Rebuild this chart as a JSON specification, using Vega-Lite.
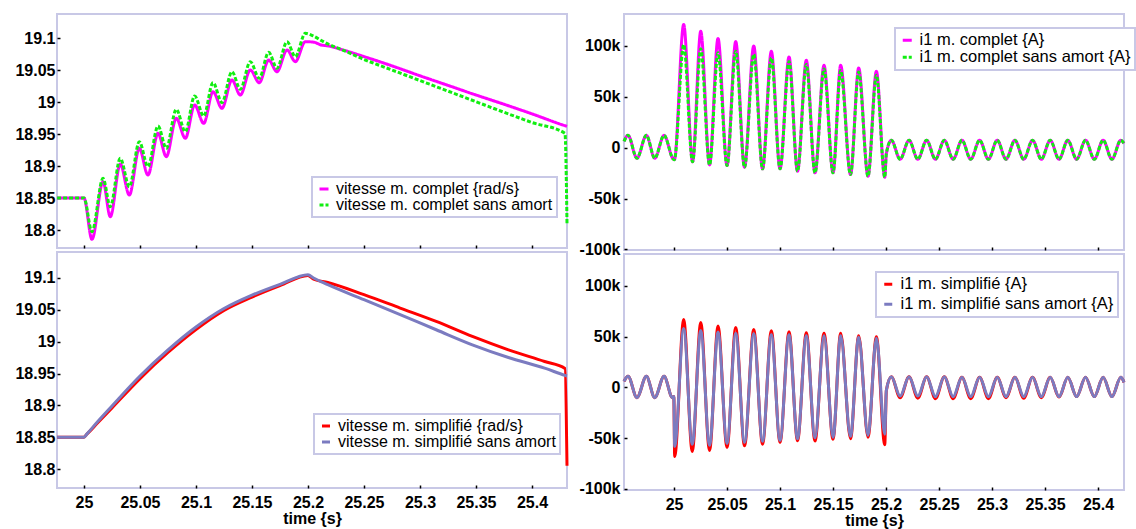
{
  "$schema": "https://vega.github.io/schema/vega-lite/v6.json",
  "padding": {"left": 13, "top": 13, "right": 0, "bottom": 0},
  "background": "white",
  "datasets": {
    "tl": [
      {"t":24.976,"a":18.85,"b":18.85},
      {"t":25.0,"a":18.85,"b":18.85},
      {"t":25.0071,"a":18.7855,"b":18.7974},
      {"t":25.017,"a":18.8755,"b":18.8807},
      {"t":25.0235,"a":18.8208,"b":18.8365},
      {"t":25.0324,"a":18.9031,"b":18.912},
      {"t":25.0405,"a":18.8547,"b":18.8677},
      {"t":25.0494,"a":18.9277,"b":18.938},
      {"t":25.0571,"a":18.8859,"b":18.899},
      {"t":25.0661,"a":18.9511,"b":18.9625},
      {"t":25.0735,"a":18.9146,"b":18.9276},
      {"t":25.0824,"a":18.9745,"b":18.9885},
      {"t":25.0905,"a":18.9433,"b":18.9536},
      {"t":25.0988,"a":18.9953,"b":19.0094},
      {"t":25.1069,"a":18.9667,"b":18.9781},
      {"t":25.1152,"a":19.0161,"b":19.0302},
      {"t":25.1232,"a":18.9901,"b":18.999},
      {"t":25.1321,"a":19.0344,"b":19.0474},
      {"t":25.1396,"a":19.0109,"b":19.0198},
      {"t":25.1485,"a":19.05,"b":19.063},
      {"t":25.1565,"a":19.0302,"b":19.037},
      {"t":25.1649,"a":19.0656,"b":19.0776},
      {"t":25.1723,"a":19.0474,"b":19.0526},
      {"t":25.1813,"a":19.0813,"b":19.0943},
      {"t":25.1887,"a":19.063,"b":19.0708},
      {"t":25.1976,"a":19.0943,"b":19.1073},
      {"t":25.205,"a":19.0935,"b":19.103},
      {"t":25.212,"a":19.089,"b":19.096},
      {"t":25.2185,"a":19.0875,"b":19.09},
      {"t":25.23,"a":19.082,"b":19.082},
      {"t":25.25,"a":19.071,"b":19.0665},
      {"t":25.275,"a":19.0565,"b":19.05},
      {"t":25.3,"a":19.041,"b":19.0335},
      {"t":25.325,"a":19.026,"b":19.017},
      {"t":25.35,"a":19.011,"b":19.0005},
      {"t":25.375,"a":18.9965,"b":18.984},
      {"t":25.4,"a":18.9815,"b":18.968},
      {"t":25.4295,"a":18.963,"b":18.951},
      {"t":25.4313,"a":18.962,"b":18.81}
    ],
    "bl": [
      {"t":24.976,"a":18.85,"b":18.85},
      {"t":25.0,"a":18.85,"b":18.85},
      {"t":25.0025,"a":18.8545,"b":18.8548},
      {"t":25.0125,"a":18.873,"b":18.875},
      {"t":25.025,"a":18.896,"b":18.899},
      {"t":25.05,"a":18.942,"b":18.946},
      {"t":25.075,"a":18.983,"b":18.987},
      {"t":25.1,"a":19.019,"b":19.023},
      {"t":25.125,"a":19.049,"b":19.052},
      {"t":25.15,"a":19.07,"b":19.073},
      {"t":25.175,"a":19.088,"b":19.09},
      {"t":25.2,"a":19.104,"b":19.105},
      {"t":25.205,"a":19.098,"b":19.1},
      {"t":25.2177,"a":19.093,"b":19.0895},
      {"t":25.25,"a":19.0738,"b":19.0659},
      {"t":25.2823,"a":19.0528,"b":19.0423},
      {"t":25.3145,"a":19.0318,"b":19.0187},
      {"t":25.3468,"a":19.0082,"b":18.9951},
      {"t":25.379,"a":18.9872,"b":18.9752},
      {"t":25.4113,"a":18.9689,"b":18.9584},
      {"t":25.4295,"a":18.958,"b":18.947},
      {"t":25.4313,"a":18.805,"b":18.946}
    ],
    "tr": [
      {"t":24.9528,"a":6000,"b":6000},
      {"t":24.9566,"a":12000,"b":12000},
      {"t":24.965,"a":-10500,"b":-10500},
      {"t":24.9739,"a":12000,"b":12000},
      {"t":24.9818,"a":-10500,"b":-10500},
      {"t":24.9906,"a":12000,"b":12000},
      {"t":24.999,"a":-11000,"b":-11000},
      {"t":25.0003,"a":-12000,"b":-12000},
      {"t":25.0091,"a":120600,"b":101000},
      {"t":25.0175,"a":-14000,"b":-14000},
      {"t":25.0252,"a":114000,"b":97000},
      {"t":25.0335,"a":-17000,"b":-17000},
      {"t":25.0415,"a":107000,"b":93000},
      {"t":25.05,"a":-17600,"b":-17600},
      {"t":25.0582,"a":104000,"b":94500},
      {"t":25.0665,"a":-19300,"b":-19300},
      {"t":25.0752,"a":99700,"b":91500},
      {"t":25.0835,"a":-20900,"b":-20900},
      {"t":25.0918,"a":94400,"b":88000},
      {"t":25.1,"a":-20900,"b":-20900},
      {"t":25.1085,"a":88900,"b":84500},
      {"t":25.1165,"a":-23200,"b":-23200},
      {"t":25.1248,"a":85600,"b":81500},
      {"t":25.133,"a":-24800,"b":-24800},
      {"t":25.1415,"a":80700,"b":77000},
      {"t":25.15,"a":-24800,"b":-24800},
      {"t":25.1572,"a":80700,"b":75500},
      {"t":25.1665,"a":-26500,"b":-26500},
      {"t":25.1742,"a":78100,"b":74000},
      {"t":25.183,"a":-28100,"b":-28100},
      {"t":25.1909,"a":74800,"b":71000},
      {"t":25.1988,"a":-29100,"b":-29100},
      {"t":25.2003,"a":-6000,"b":-6000},
      {"t":25.205,"a":7200,"b":7200},
      {"t":25.2133,"a":-11500,"b":-11500},
      {"t":25.2217,"a":7200,"b":7200},
      {"t":25.23,"a":-11500,"b":-11500},
      {"t":25.2383,"a":7200,"b":7200},
      {"t":25.2466,"a":-11500,"b":-11500},
      {"t":25.255,"a":7200,"b":7200},
      {"t":25.2633,"a":-11500,"b":-11500},
      {"t":25.2716,"a":7200,"b":7200},
      {"t":25.2799,"a":-11500,"b":-11500},
      {"t":25.2883,"a":7200,"b":7200},
      {"t":25.2966,"a":-11500,"b":-11500},
      {"t":25.3049,"a":7200,"b":7200},
      {"t":25.3132,"a":-11500,"b":-11500},
      {"t":25.3216,"a":7200,"b":7200},
      {"t":25.3299,"a":-11500,"b":-11500},
      {"t":25.3382,"a":7200,"b":7200},
      {"t":25.3465,"a":-11500,"b":-11500},
      {"t":25.3549,"a":7200,"b":7200},
      {"t":25.3632,"a":-11500,"b":-11500},
      {"t":25.3715,"a":7200,"b":7200},
      {"t":25.3798,"a":-11500,"b":-11500},
      {"t":25.3882,"a":7200,"b":7200},
      {"t":25.3965,"a":-11500,"b":-11500},
      {"t":25.4048,"a":7200,"b":7200},
      {"t":25.4131,"a":-11500,"b":-11500},
      {"t":25.4215,"a":7200,"b":7200},
      {"t":25.4245,"a":4000,"b":4000}
    ],
    "br": [
      {"t":24.9528,"a":6000,"b":6000},
      {"t":24.9566,"a":11000,"b":11000},
      {"t":24.965,"a":-10000,"b":-10000},
      {"t":24.9739,"a":11000,"b":11000},
      {"t":24.9818,"a":-10000,"b":-10000},
      {"t":24.9906,"a":11000,"b":11000},
      {"t":24.9985,"a":-10000,"b":-10000},
      {"t":24.9998,"a":-9000,"b":-9000},
      {"t":25.0006,"a":-68000,"b":-58000},
      {"t":25.0091,"a":67000,"b":58000},
      {"t":25.0172,"a":-63000,"b":-56000},
      {"t":25.0252,"a":64000,"b":56200},
      {"t":25.0335,"a":-62000,"b":-57000},
      {"t":25.0415,"a":60500,"b":54600},
      {"t":25.05,"a":-59000,"b":-55000},
      {"t":25.0582,"a":59000,"b":53500},
      {"t":25.0665,"a":-57500,"b":-54000},
      {"t":25.0752,"a":57000,"b":53000},
      {"t":25.0835,"a":-56000,"b":-53000},
      {"t":25.0918,"a":56000,"b":52000},
      {"t":25.1,"a":-54000,"b":-52000},
      {"t":25.1085,"a":55000,"b":52000},
      {"t":25.1165,"a":-52500,"b":-50500},
      {"t":25.1248,"a":54000,"b":51000},
      {"t":25.133,"a":-52800,"b":-49500},
      {"t":25.1415,"a":53500,"b":51000},
      {"t":25.15,"a":-51000,"b":-49000},
      {"t":25.1572,"a":53500,"b":51000},
      {"t":25.1665,"a":-50500,"b":-48000},
      {"t":25.1742,"a":51000,"b":49500},
      {"t":25.183,"a":-49000,"b":-47000},
      {"t":25.1909,"a":50000,"b":48500},
      {"t":25.1988,"a":-56500,"b":-46000},
      {"t":25.2003,"a":-3000,"b":-3000},
      {"t":25.205,"a":10500,"b":10500},
      {"t":25.2133,"a":-10000,"b":-8500},
      {"t":25.2217,"a":10500,"b":10500},
      {"t":25.23,"a":-10500,"b":-8500},
      {"t":25.2383,"a":10500,"b":10500},
      {"t":25.2466,"a":-11000,"b":-9000},
      {"t":25.255,"a":10500,"b":10500},
      {"t":25.2633,"a":-11000,"b":-9000},
      {"t":25.2716,"a":10000,"b":10000},
      {"t":25.2799,"a":-11000,"b":-9000},
      {"t":25.2883,"a":10000,"b":10000},
      {"t":25.2966,"a":-11000,"b":-9000},
      {"t":25.3049,"a":10000,"b":10000},
      {"t":25.3132,"a":-10000,"b":-9000},
      {"t":25.3216,"a":10000,"b":10000},
      {"t":25.3299,"a":-10500,"b":-9000},
      {"t":25.3382,"a":10000,"b":10000},
      {"t":25.3465,"a":-10000,"b":-9000},
      {"t":25.3549,"a":10000,"b":10000},
      {"t":25.3632,"a":-9500,"b":-9000},
      {"t":25.3715,"a":10000,"b":10000},
      {"t":25.3798,"a":-9000,"b":-9000},
      {"t":25.3882,"a":10000,"b":10000},
      {"t":25.3965,"a":-9000,"b":-9000},
      {"t":25.4048,"a":10000,"b":10000},
      {"t":25.4131,"a":-9000,"b":-9000},
      {"t":25.4215,"a":10000,"b":10000},
      {"t":25.4245,"a":5000,"b":5000}
    ]
  },
  "config": {
    "view": {"stroke": "#c8c8e6", "strokeWidth": 2},
    "axis": {
      "domain": false, "grid": false, "ticks": true, "tickSize": -3, "tickWidth": 1.5, "tickColor": "#000",
      "labelFont": "Liberation Sans", "labelFontSize": 16, "labelFontWeight": "bold", "labelColor": "#000",
      "labelOverlap": false, "labelFlush": false,
      "titleFont": "Liberation Sans", "titleFontSize": 16, "titleFontWeight": "bold", "titleColor": "#000",
      "minExtent": 0
    },
    "axisY": {"labelPadding": 5},
    "axisX": {"labelPadding": 9, "titlePadding": 0},
    "legend": {
      "labelFont": "Liberation Sans", "labelFontSize": 16, "labelColor": "#000",
      "symbolType": "stroke", "symbolStrokeWidth": 4, "symbolSize": 81,
      "padding": 4, "rowPadding": 0, "labelOffset": 4, "labelLimit": 400,
      "fillColor": "#ffffff", "strokeColor": "#c8c8e6", "strokeWidth": 2
    },
    "line": {"strokeWidth": 3, "interpolate": "monotone", "clip": true}
  },
  "spacing": 4,
  "resolve": {"scale": {"x": "independent", "y": "independent", "color": "independent", "strokeDash": "independent"}},
  "hconcat": [
    {
      "spacing": 4,
      "bounds": "flush",
      "resolve": {"scale": {"x": "independent", "y": "independent", "color": "independent", "strokeDash": "independent"}},
      "vconcat": [
        {
          "width": 510, "height": 234,
          "data": {"name": "tl"},
          "transform": [{"fold": ["a", "b"], "as": ["s", "v"]}],
          "mark": {"type": "line"},
          "encoding": {
            "x": {"field": "t", "type": "quantitative", "scale": {"domain": [24.9759, 25.4313], "nice": false, "zero": false},
                  "axis": {"values": [25, 25.05, 25.1, 25.15, 25.2, 25.25, 25.3, 25.35, 25.4], "labels": false, "title": null}},
            "y": {"field": "v", "type": "quantitative", "scale": {"domain": [18.7719, 19.1375], "nice": false, "zero": false},
                  "axis": {"values": [18.8, 18.85, 18.9, 18.95, 19, 19.05, 19.1], "format": ".2~f", "title": null}},
            "color": {"field": "s", "type": "nominal", "scale": {"domain": ["a", "b"], "range": ["#ff00ff", "#11ee11"]},
                      "legend": {"orient": "none", "legendX": 255, "legendY": 163, "title": null,
                                 "labelExpr": "datum.label == 'a' ? 'vitesse m. complet {rad/s}' : 'vitesse m. complet sans amort'"}},
            "strokeDash": {"field": "s", "type": "nominal", "scale": {"domain": ["a", "b"], "range": [[1, 0], [4, 2]]},
                      "legend": {"orient": "none", "legendX": 255, "legendY": 163, "title": null,
                                 "labelExpr": "datum.label == 'a' ? 'vitesse m. complet {rad/s}' : 'vitesse m. complet sans amort'"}}
          }
        },
        {
          "width": 510, "height": 236,
          "data": {"name": "bl"},
          "transform": [{"fold": ["a", "b"], "as": ["s", "v"]}],
          "mark": {"type": "line"},
          "encoding": {
            "x": {"field": "t", "type": "quantitative", "scale": {"domain": [24.9759, 25.4313], "nice": false, "zero": false},
                  "axis": {"values": [25, 25.05, 25.1, 25.15, 25.2, 25.25, 25.3, 25.35, 25.4], "format": ".2~f", "title": "time {s}"}},
            "y": {"field": "v", "type": "quantitative", "scale": {"domain": [18.7702, 19.1408], "nice": false, "zero": false},
                  "axis": {"values": [18.8, 18.85, 18.9, 18.95, 19, 19.05, 19.1], "format": ".2~f", "title": null}},
            "color": {"field": "s", "type": "nominal", "scale": {"domain": ["a", "b"], "range": ["#ff0000", "#7b7bc0"]},
                      "legend": {"orient": "none", "legendX": 257, "legendY": 162, "title": null, "symbolSize": 64,
                                 "labelExpr": "datum.label == 'a' ? 'vitesse m. simplifié {rad/s}' : 'vitesse m. simplifié sans amort'"}}
          }
        }
      ]
    },
    {
      "spacing": 4,
      "bounds": "flush",
      "resolve": {"scale": {"x": "independent", "y": "independent", "color": "independent", "strokeDash": "independent"}},
      "vconcat": [
        {
          "width": 500, "height": 236,
          "data": {"name": "tr"},
          "transform": [{"fold": ["a", "b"], "as": ["s", "v"]}],
          "mark": {"type": "line"},
          "encoding": {
            "x": {"field": "t", "type": "quantitative", "scale": {"domain": [24.9528, 25.4245], "nice": false, "zero": false},
                  "axis": {"values": [25, 25.05, 25.1, 25.15, 25.2, 25.25, 25.3, 25.35, 25.4], "labels": false, "title": null}},
            "y": {"field": "v", "type": "quantitative", "scale": {"domain": [-100500, 131000], "nice": false, "zero": false},
                  "axis": {"values": [-100000, -50000, 0, 50000, 100000], "labelPadding": 7, "title": null,
                           "labelExpr": "datum.value == 0 ? '0' : (datum.value < 0 ? '-' : '') + (abs(datum.value) / 1000) + 'k'"}},
            "color": {"field": "s", "type": "nominal", "scale": {"domain": ["a", "b"], "range": ["#ff00ff", "#11ee11"]},
                      "legend": {"orient": "none", "legendX": 271, "legendY": 14, "title": null, "labelFontSize": 16.5,
                                 "labelExpr": "datum.label == 'a' ? 'i1 m. complet {A}' : 'i1 m. complet sans amort {A}'"}},
            "strokeDash": {"field": "s", "type": "nominal", "scale": {"domain": ["a", "b"], "range": [[1, 0], [4, 2]]},
                      "legend": {"orient": "none", "legendX": 271, "legendY": 14, "title": null, "labelFontSize": 16.5,
                                 "labelExpr": "datum.label == 'a' ? 'i1 m. complet {A}' : 'i1 m. complet sans amort {A}'"}}
          }
        },
        {
          "width": 500, "height": 236,
          "data": {"name": "br"},
          "transform": [{"fold": ["a", "b"], "as": ["s", "v"]}],
          "mark": {"type": "line"},
          "encoding": {
            "x": {"field": "t", "type": "quantitative", "scale": {"domain": [24.9528, 25.4245], "nice": false, "zero": false},
                  "axis": {"values": [25, 25.05, 25.1, 25.15, 25.2, 25.25, 25.3, 25.35, 25.4], "format": ".2~f", "title": "time {s}"}},
            "y": {"field": "v", "type": "quantitative", "scale": {"domain": [-101000, 131500], "nice": false, "zero": false},
                  "axis": {"values": [-100000, -50000, 0, 50000, 100000], "labelPadding": 7, "title": null,
                           "labelExpr": "datum.value == 0 ? '0' : (datum.value < 0 ? '-' : '') + (abs(datum.value) / 1000) + 'k'"}},
            "color": {"field": "s", "type": "nominal", "scale": {"domain": ["a", "b"], "range": ["#ff0000", "#7b7bc0"]},
                      "legend": {"orient": "none", "legendX": 252, "legendY": 18, "title": null, "symbolSize": 64, "labelFontSize": 16.5, "rowPadding": 3,
                                 "labelExpr": "datum.label == 'a' ? 'i1 m. simplifié {A}' : 'i1 m. simplifié sans amort {A}'"}}
          }
        }
      ]
    }
  ]
}
